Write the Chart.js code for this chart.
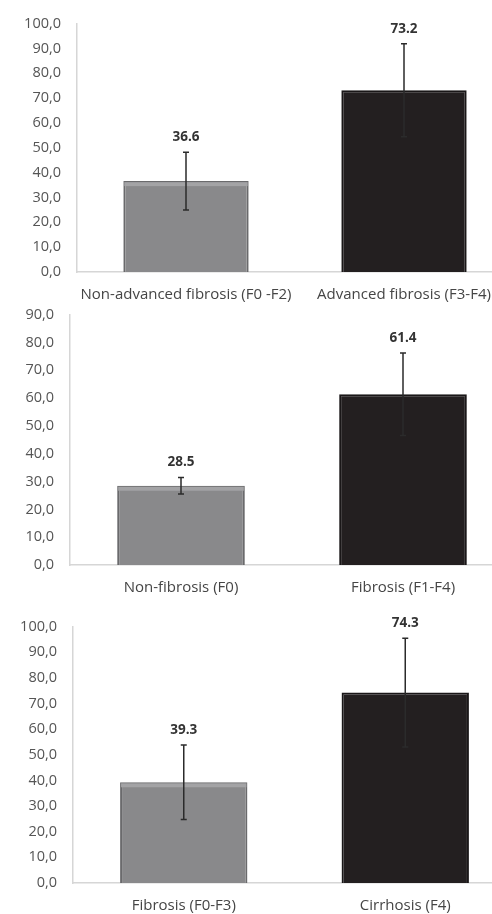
<!DOCTYPE html>
<html>
<head>
<meta charset="utf-8">
<script src="https://cdn.jsdelivr.net/npm/chart.js@4.4.1/dist/chart.umd.min.js"></script>
<style>
  html, body { margin: 0; padding: 0; background: #fff; overflow: hidden; width: 492px; height: 914px; }
  .wrap { position: absolute; left: 0; width: 520px; }
  canvas { display: block; }
</style>
</head>
<body>
<div class="wrap" style="top:-1px;height:319px;"><canvas id="c1" width="520" height="319"></canvas></div>
<div class="wrap" style="top:290px;height:321px;"><canvas id="c2" width="520" height="321"></canvas></div>
<div class="wrap" style="top:602px;height:327px;"><canvas id="c3" width="520" height="327"></canvas></div>
<script>
// ---- Data ----
const categories1 = ['Non-advanced fibrosis (F0 -F2)', 'Advanced fibrosis (F3-F4)'];
const values1 = [36.6, 73.2];
const errors1 = [11.6, 18.7];
const yMax1 = 100;

const categories2 = ['Non-fibrosis (F0)', 'Fibrosis (F1-F4)'];
const values2 = [28.5, 61.4];
const errors2 = [3.0, 14.8];
const yMax2 = 90;

const categories3 = ['Fibrosis (F0-F3)', 'Cirrhosis (F4)'];
const values3 = [39.3, 74.3];
const errors3 = [14.5, 21.2];
const yMax3 = 100;

const barColors = ['#89898b', '#231f20'];
const barBorders = ['#6a6a6c', '#1a1718'];

const FONT = '"Open Sans", "Liberation Sans", sans-serif';

const errorBarPlugin = {
  id: 'errorBars',
  afterDatasetsDraw(chart) {
    const ctx = chart.ctx;
    const yScale = chart.scales.y;
    const meta = chart.getDatasetMeta(0);
    const ds = chart.data.datasets[0];
    const errs = ds.errors;
    meta.data.forEach((bar, i) => {
      const v = ds.data[i];
      const e = errs[i];
      const yTop = yScale.getPixelForValue(v + e);
      const yBot = yScale.getPixelForValue(v - e);
      const x = bar.x;
      ctx.save();
      if (i === 0) {
        ctx.fillStyle = '#a3a3a5';
        ctx.fillRect(bar.x - bar.width / 2 + 1, bar.y + 1, bar.width - 2, 4);
      }
      ctx.strokeStyle = '#2b2b2b';
      ctx.lineWidth = 1.5;
      ctx.beginPath();
      ctx.moveTo(x, yTop); ctx.lineTo(x, yBot);
      ctx.moveTo(x - 3, yTop); ctx.lineTo(x + 3, yTop);
      ctx.moveTo(x - 3, yBot); ctx.lineTo(x + 3, yBot);
      ctx.stroke();
      ctx.fillStyle = '#333333';
      ctx.font = 'bold 13.5px ' + FONT;
      ctx.textAlign = 'center';
      ctx.textBaseline = 'middle';
      ctx.fillText(v.toFixed(1), x, yTop - 15);
      ctx.restore();
    });
  }
};

function makeChart(id, cats, vals, errs, yMax, pad, yWidth) {
  return new Chart(document.getElementById(id), {
    type: 'bar',
    data: {
      labels: cats,
      datasets: [{
        data: vals,
        errors: errs,
        backgroundColor: barColors,
        borderColor: barBorders,
        borderWidth: 2,
        barPercentage: 0.575,
        categoryPercentage: 1.0
      }]
    },
    options: {
      responsive: false,
      animation: false,
      devicePixelRatio: 1,
      layout: { padding: pad },
      plugins: { legend: { display: false }, tooltip: { enabled: false } },
      scales: {
        x: {
          grid: { display: false, drawTicks: false },
          border: { color: '#d6d6d6', width: 1.5 },
          ticks: { color: '#454545', font: { family: FONT, size: 15 }, padding: 14, maxRotation: 0, autoSkip: false }
        },
        y: {
          min: 0, max: yMax,
          grid: { display: false, drawTicks: false },
          border: { color: '#d6d6d6', width: 1.5 },
          ticks: {
            stepSize: 10,
            color: '#555555',
            font: { family: FONT, size: 14.5 },
            padding: 16,
            callback: (v) => Number(v).toFixed(1).replace('.', ',')
          },
          afterFit: (s) => { s.width = yWidth; }
        }
      }
    },
    plugins: [errorBarPlugin]
  });
}

makeChart('c1', categories1, values1, errors1, yMax1, { top: 0, right: 7, bottom: 0, left: 0 }, 77);
makeChart('c2', categories2, values2, errors2, yMax2, { top: 0, right: 6, bottom: 0, left: 0 }, 70);
makeChart('c3', categories3, values3, errors3, yMax3, { top: 0, right: 4, bottom: 0, left: 0 }, 73);
</script>
</body>
</html>
